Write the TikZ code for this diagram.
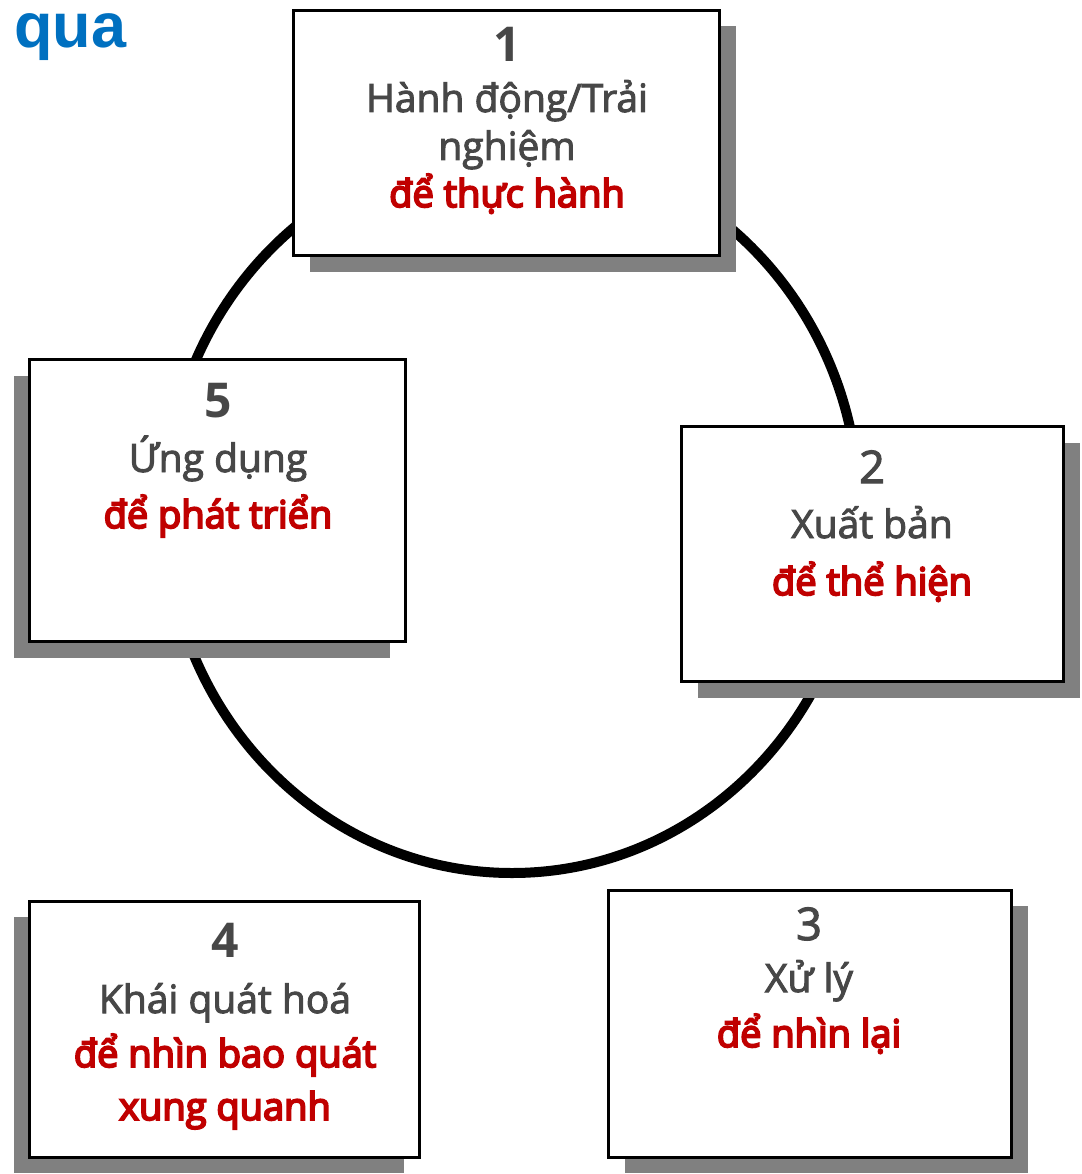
\documentclass[tikz,border=0pt]{standalone}
\usepackage{fontspec}
\setmainfont{Open Sans}
\newfontfamily\headfont{Liberation Sans}
\newfontfamily\inkfont{Open Sans}[FakeBold=2.5]
\newfontfamily\accentfont{Open Sans}[FakeBold=5]
\usetikzlibrary{calc,backgrounds}

\definecolor{ink}{HTML}{474747}
\definecolor{accent}{HTML}{C00000}
\definecolor{shade}{HTML}{808080}
\definecolor{titleblue}{HTML}{0070C0}

\tikzset{
  card/.style={draw=black, line width=3pt, fill=white, inner sep=0pt, outer sep=0pt},
  numtxt/.style={anchor=base, text=ink, font=\fontsize{48}{48}\selectfont\bfseries, inner sep=0pt},
  numlight/.style={anchor=base, text=ink, font=\inkfont\fontsize{45}{45}\selectfont, inner sep=0pt},
  maintxt/.style={anchor=base, text=ink, font=\inkfont\fontsize{39}{39}\selectfont, inner sep=0pt},
  redtxt/.style={anchor=base, text=accent, font=\accentfont\fontsize{38}{38}\selectfont, inner sep=0pt},
  ring/.style={draw=black, line width=10pt},
  cardshadow/.style={fill=shade}
}

\begin{document}
\begin{tikzpicture}[x=1pt, y=-1pt]
\useasboundingbox (0,0) rectangle (1081,1174);

% heading word
\node[anchor=base west, inner sep=0pt, text=titleblue, text height=34pt, text depth=13pt,
      font=\headfont\fontsize{63}{63}\selectfont\bfseries] (head) at (14,48) {qua};

% the five cards
\node[card, minimum width=426pt, minimum height=245pt] (b1) at (506.5,133) {};
\node[card, minimum width=382pt, minimum height=255pt] (b2) at (872.5,554) {};
\node[card, minimum width=403pt, minimum height=267pt] (b3) at (810,1024) {};
\node[card, minimum width=390pt, minimum height=256pt] (b4) at (224.5,1029.5) {};
\node[card, minimum width=376pt, minimum height=282pt] (b5) at (217.5,500.5) {};

% ring and drop shadows behind the cards
\begin{pgfonlayer}{background}
  \coordinate (ringc) at (512,510);
  \draw[ring] (ringc) ellipse [x radius=347, y radius=363];
  \fill[cardshadow] ($(b1.south west)+(16,16)$) rectangle ($(b1.north east)+(16,16)$);
  \fill[cardshadow] ($(b2.south west)+(16,16)$) rectangle ($(b2.north east)+(16,16)$);
  \fill[cardshadow] ($(b3.south west)+(16,15)$) rectangle ($(b3.north east)+(16,15)$);
  \fill[cardshadow] ($(b4.south west)+(-16,15)$) rectangle ($(b4.north east)+(-16,15)$);
  \fill[cardshadow] ($(b5.south west)+(-16,16)$) rectangle ($(b5.north east)+(-16,16)$);
\end{pgfonlayer}

% card 1
\node[numtxt]  (n1)  at (507,62)  {1};
\node[maintxt] (t1a) at (507,112) {Hành động/Trải};
\node[maintxt] (t1b) at (507,160) {nghiệm};
\node[redtxt]  (r1)  at (507,207) {để thực hành};

% card 2
\node[numlight] (n2) at (872,483) {2};
\node[maintxt]  (t2) at (872,538) {Xuất bản};
\node[redtxt]   (r2) at (872,595) {để thể hiện};

% card 3
\node[numlight] (n3) at (809,940)  {3};
\node[maintxt]  (t3) at (809,992)  {Xử lý};
\node[redtxt]   (r3) at (809,1047) {để nhìn lại};

% card 4
\node[numtxt]  (n4)  at (225,957)  {4};
\node[maintxt] (t4)  at (225,1013) {Khái quát hoá};
\node[redtxt]  (r4a) at (225,1067) {để nhìn bao quát};
\node[redtxt]  (r4b) at (225,1120) {xung quanh};

% card 5
\node[numtxt]  (n5) at (218,417) {5};
\node[maintxt] (t5) at (218,472) {Ứng dụng};
\node[redtxt]  (r5) at (218,528) {để phát triển};
\end{tikzpicture}
\end{document}
